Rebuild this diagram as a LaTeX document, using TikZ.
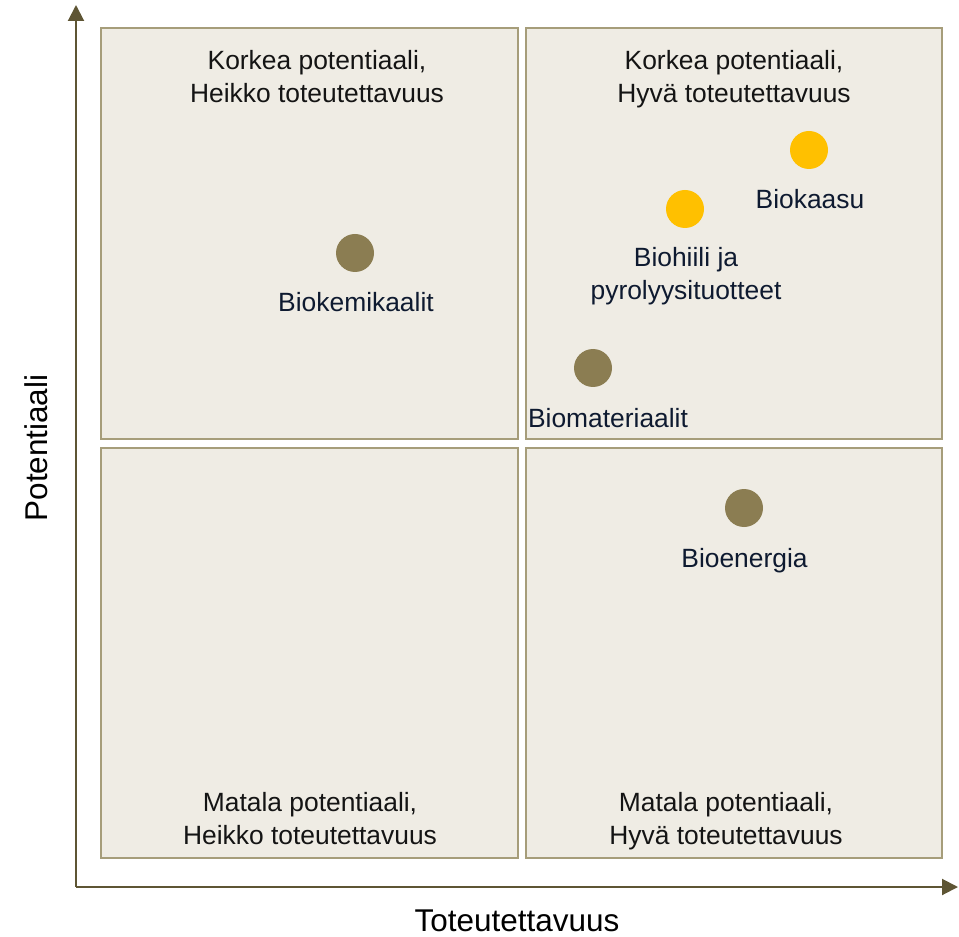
\documentclass[tikz,border=0pt]{standalone}
\usepackage{fontspec}
\setmainfont{Liberation Sans}
\usepackage{xcolor}
\usetikzlibrary{arrows.meta}

\definecolor{quadfill}{RGB}{239,236,228}
\definecolor{quadline}{RGB}{166,157,122}
\definecolor{axisline}{RGB}{94,85,52}
\definecolor{dotolive}{RGB}{139,125,82}
\definecolor{dotgold}{RGB}{255,192,0}
\definecolor{labeltxt}{RGB}{14,26,48}
\definecolor{quadtxt}{RGB}{20,20,20}

\begin{document}
\begin{tikzpicture}[x=0.75pt,y=0.75pt,yscale=-1,xscale=1,
    quad/.style={draw=quadline,fill=quadfill,line width=1.5pt},
    quadtext/.style={anchor=base,align=center,inner sep=0pt,text=quadtxt,font=\fontsize{19.8}{24.75}\selectfont},
    dotlabel/.style={anchor=base,align=center,inner sep=0pt,text=labeltxt,font=\fontsize{19.8}{24.75}\selectfont},
    axislabel/.style={inner sep=0pt,text=black,font=\fontsize{23.6}{28}\selectfont},
    axis/.style={draw=axisline,line width=1.5pt,-{Triangle[length=12pt,width=12pt]}},
    olivedot/.style={circle,fill=dotolive,minimum size=28.5pt,inner sep=0pt},
    golddot/.style={circle,fill=dotgold,minimum size=28.5pt,inner sep=0pt}]
        \useasboundingbox (0,0) rectangle (959,937);

        % Quadrants
        \draw [quad] (101,28) rectangle (518,439) ;
        \draw [quad] (526,28) rectangle (942,439) ;
        \draw [quad] (101,448) rectangle (518,858) ;
        \draw [quad] (526,448) rectangle (942,858) ;

        % Axes
        \coordinate (origin) at (76,887) ;
        \coordinate (ytip) at (76,5) ;
        \coordinate (xtip) at (958,887) ;
        \draw [axis] (origin) -- (ytip) ;
        \draw [axis] (origin) -- (xtip) ;
        \node [axislabel,rotate=90] (ylabel) at (36,448) {Potentiaali};
        \node [axislabel] (xlabel) at (517,921) {Toteutettavuus};

        % Text Node (base = last line)
        \node [quadtext] (korkeaheikko) at (317,103) {Korkea potentiaali,\\Heikko toteutettavuus};
        \node [quadtext] (korkeahyva) at (734,103) {Korkea potentiaali,\\Hyvä toteutettavuus};
        \node [quadtext] (matalaheikko) at (310,844) {Matala potentiaali,\\Heikko toteutettavuus};
        \node [quadtext] (matalahyva) at (726,844) {Matala potentiaali,\\Hyvä toteutettavuus};

        % Dots
        \node [olivedot] (biokemikaalit) at (355,253) {};
        \node [golddot] (biokaasu) at (809,150) {};
        \node [golddot] (biohiili) at (685,209) {};
        \node [olivedot] (biomateriaalit) at (593,368) {};
        \node [olivedot] (bioenergia) at (744,508) {};

        % Text Node
        \node [dotlabel] (biokemikaalitlabel) at (356,312) {Biokemikaalit};
        \node [dotlabel] (biokaasulabel) at (810,209) {Biokaasu};
        \node [dotlabel] (biohiililabel) at (686,300) {Biohiili ja\\pyrolyysituotteet};
        \node [dotlabel] (biomateriaalitlabel) at (608,427) {Biomateriaalit};
        \node [dotlabel] (bioenergialabel) at (744.5,567) {Bioenergia};

\end{tikzpicture}
\end{document}
